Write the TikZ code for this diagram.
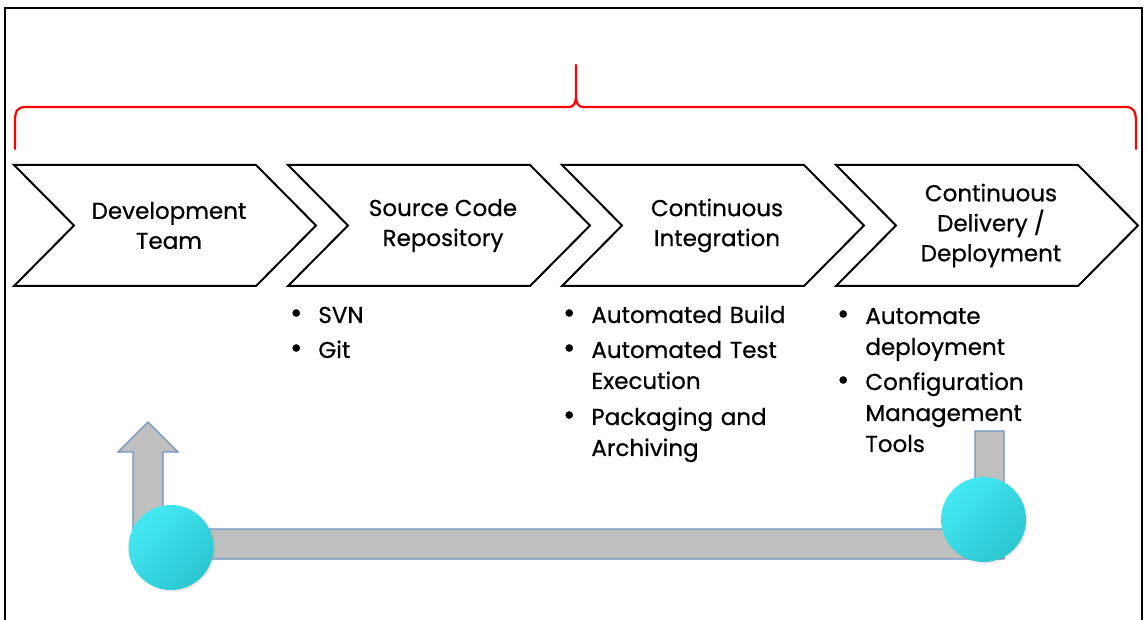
\documentclass[tikz,border=0pt]{standalone}
\usepackage{fontspec}
\setmainfont{Poppins}[UprightFeatures={FakeBold=0.6}]
\usepackage{xcolor}
\usetikzlibrary{positioning,shadows}
\definecolor{ink}{HTML}{000000}
\definecolor{bracered}{HTML}{FF0000}
\definecolor{bargrey}{HTML}{BFBFBF}
\definecolor{barblue}{HTML}{6B93C4}
\definecolor{balltop}{HTML}{44E9F4}
\definecolor{ballbot}{HTML}{2CC6CF}
\tikzset{
  frame/.style={draw=ink, line width=1pt},
  chev/.style={draw=ink, fill=white, line width=1pt, line join=miter},
  brace/.style={draw=bracered, line width=1.1pt, line cap=round, line join=round},
  lab/.style={text=ink, font=\fontsize{11.5}{15}\selectfont, align=center, inner sep=0pt},
  item/.style={text=ink, font=\fontsize{11.5}{15.5}\selectfont, text width=150pt, align=left,
    inner sep=0pt, anchor=base west,
    execute at begin node={\leavevmode\llap{\scalebox{1.3}{\textbullet}\hspace{8pt}}}},
  loop/.style={draw=barblue, fill=bargrey, line width=0.6pt, line join=miter},
  ball/.style={circle, minimum size=42.5pt, inner sep=0pt, top color=balltop,
    bottom color=ballbot, shading angle=45,
    drop shadow={opacity=0.18, shadow xshift=0.8pt, shadow yshift=-0.8pt}},
}
\begin{document}
\begin{tikzpicture}[x=0.5pt, y=-0.5pt]
  \useasboundingbox[fill=white] (0,0) rectangle (1147,620);
  \draw[frame] (5,630) -- (5,8) -- (1142,8) -- (1142,630);

  % brace over the whole pipeline
  \draw[brace] (15,149) -- (15,122) .. controls (15,111) and (17,107) .. (26,107)
    -- (569,107) .. controls (574,107) and (576,103) .. (576,95) -- (576,65)
    -- (576,95) .. controls (576,103) and (578,107) .. (583,107)
    -- (1126,107) .. controls (1133,107) and (1136,111) .. (1136,122) -- (1136,149);

  % pipeline stages
  \foreach \L/\nm/\txt in {14/devteam/{Development\\Team},
      288/repo/{Source Code\\Repository},
      562/ci/{Continuous\\Integration},
      836/cd/{Continuous\\Delivery /\\Deployment}} {
    \draw[chev] (\L,165) -- ++(242,0) -- ++(60,60.5) -- ++(-60,60.5)
      -- ++(-242,0) -- ++(60,-60.5) -- cycle;
    \node[lab] (\nm) at (\L+155,225.5) {\txt};
  }

  % tools under each stage
  \node[item] (svn) at (318,323) {SVN};
  \node[item] (git) at (318,358) {Git};
  \node[item] (build) at (591,323) {Automated Build};
  \node[item] (test) at (591,358) {Automated Test\\Execution};
  \node[item] (pack) at (591,425) {Packaging and\\Archiving};
  \node[item] (deploy) at (865,324) {Automate\\deployment};
  \node[item] (config) at (865,390) {Configuration\\Management\\Tools};

  % feedback loop
  \draw[loop] (1004,431) -- (1004,559) -- (133,559) -- (133,452) -- (118,452)
    -- (148,422) -- (178,452) -- (163,452) -- (163,529) -- (975,529)
    -- (975,431) -- cycle;
  \node[ball] (loopL) at (171,547.5) {};
  \node[ball] (loopR) at (983.5,519.5) {};
\end{tikzpicture}
\end{document}
